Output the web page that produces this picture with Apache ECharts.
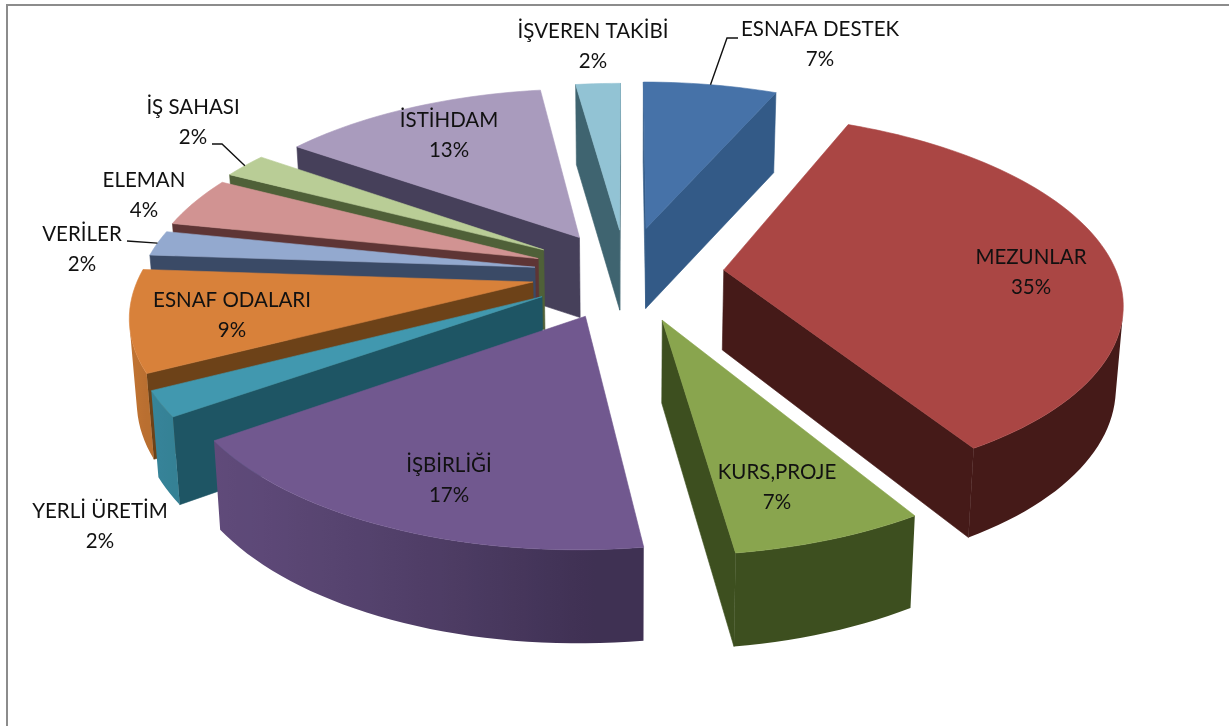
<!DOCTYPE html>
<html>
<head>
<meta charset="utf-8">
<title>Pie</title>
<style>
  html, body { margin: 0; padding: 0; background: #fff; }
  #chart { width: 1229px; height: 726px; }
</style>
<script src="https://cdn.jsdelivr.net/npm/echarts@6/dist/echarts.min.js"></script>
</head>
<body>
<div id="chart"></div>
<script>
// clockwise from twelve o'clock
var categories = ['ESNAFA DESTEK', 'MEZUNLAR', 'KURS,PROJE', 'İŞBİRLİĞİ', 'YERLİ ÜRETİM', 'ESNAF ODALARI', 'VERİLER', 'ELEMAN', 'İŞ SAHASI', 'İSTİHDAM', 'İŞVEREN TAKİBİ'];
// counts that give the printed rounded percentages and fit the slice angles
var counts = [3, 16, 3, 8, 1, 4, 1, 2, 1, 6, 1];

var topColors = ['#4672a8', '#aa4644', '#89a54e', '#71588f', '#4198af', '#d8813a', '#93a9cf', '#d19392', '#b9cd96', '#a99bbd', '#92c3d4'];
var sideColors = ['#335a87', '#451a18', '#3d4f1f', '#3f3153', '#1e5564', '#6d4218', '#3a4a66', '#5e3535', '#4f6038', '#46405a', '#3f6470'];
// how far each slice is pulled out of the pie
var explode = [0.26, 0.25, 0.265, 0.25, 0.245, 0.24, 0.235, 0.24, 0.25, 0.235, 0.245];

// hand placed label centres [x, y of first line]
var labelAt = [[820, 29], [1031, 257], [777, 472], [449, 465], [100, 511], [232, 300], [82, 234], [144, 180], [193, 107], [449, 120], [593, 31]];
var leaderStart = { 0: [[738, 38], [727, 38]], 6: [[127, 241]], 8: [[212, 144], [222, 144]] };

// fake 3d: perspective tilt of the pie plane
var cx = 626, cy = 273, radX = 393, radY = 182, tilt = 0.156, depth = 80;

function project(px, py, low) {
  var w = 1 - tilt * py;
  var x = cx + radX * px / w;
  var y = cy + radY * py / w;
  if (low) {
    x -= (x - cx) * 0.015;
    y += depth + Math.max(0, py) * 11;
  }
  return [x, y];
}

function rgb(hex) {
  return [1, 3, 5].map(function (i) { return parseInt(hex.substr(i, 2), 16); });
}

function mix(a, b, t) {
  var ca = rgb(a), cb = rgb(b);
  return 'rgb(' + ca.map(function (v, i) { return Math.round(v + (cb[i] - v) * t); }).join(',') + ')';
}

function area(p) {
  var s = 0;
  p.forEach(function (q, i) {
    var n = p[(i + 1) % p.length];
    s += q[0] * n[1] - n[0] * q[1];
  });
  return s;
}

var total = counts.reduce(function (a, b) { return a + b; }, 0);
var starts = [];
counts.reduce(function (sum, v, i) { starts[i] = sum; return sum + v; }, 0);

// back slices first so the front ones paint over them
var order = counts.map(function (v, i) { return i; }).sort(function (a, b) {
  var ma = (starts[a] + counts[a] / 2) / total * 2 * Math.PI;
  var mb = (starts[b] + counts[b] / 2) / total * 2 * Math.PI;
  return Math.cos(mb) - Math.cos(ma);
});

function sliceItem(params, api) {
  var i = api.value(2);
  var a0 = api.value(1) / total * 2 * Math.PI;
  var a1 = a0 + api.value(0) / total * 2 * Math.PI;
  var mid = (a0 + a1) / 2;
  var ox = Math.sin(mid) * explode[i], oy = -Math.cos(mid) * explode[i];
  var steps = Math.max(4, Math.round((a1 - a0) / 0.03));
  var arc = [];
  for (var s = 0; s <= steps; s++) {
    var a = a0 + (a1 - a0) * s / steps;
    arc.push([ox + Math.sin(a), oy - Math.cos(a), a]);
  }
  var children = [];
  function face(points, fill) {
    children.push({
      type: 'polygon',
      shape: { points: points },
      style: { fill: fill, stroke: fill, lineWidth: 0.6 }
    });
  }
  function wall(p, q, fill) {
    var pts = [project(p[0], p[1]), project(q[0], q[1]), project(q[0], q[1], true), project(p[0], p[1], true)];
    if (area(pts) < 0) face(pts, fill);
  }
  var apex = [ox, oy];
  wall(apex, arc[0], sideColors[i]);
  wall(arc[steps], apex, sideColors[i]);

  // outer wall as one shape, shaded along x
  var run = [];
  for (var k = 0; k < steps; k++) {
    var p = arc[k], q = arc[k + 1];
    var quad = [project(p[0], p[1]), project(q[0], q[1]), project(q[0], q[1], true), project(p[0], p[1], true)];
    if (area(quad) < 0) {
      if (!run.length) run.push(p);
      run.push(q);
    }
  }
  if (run.length) {
    var upper = run.map(function (p) { return project(p[0], p[1]); });
    var lower = run.map(function (p) { return project(p[0], p[1], true); }).reverse();
    var x0 = upper[0][0], x1 = upper[upper.length - 1][0];
    var shade = function (p) { return mix(sideColors[i], topColors[i], Math.max(0, -Math.sin(p[2])) * 0.8); };
    var fill = shade(run[0]);
    if (Math.abs(x1 - x0) > 1) {
      fill = new echarts.graphic.LinearGradient(x0, 0, x1, 0, run.map(function (p, n) {
        return { offset: n / (run.length - 1), color: shade(p) };
      }), true);
    }
    children.push({
      type: 'polygon',
      shape: { points: upper.concat(lower) },
      style: { fill: fill }
    });
  }

  var top = [project(apex[0], apex[1])].concat(arc.map(function (p) { return project(p[0], p[1]); }));
  face(top, topColors[i]);
  return { type: 'group', children: children };
}

function labelItem(params, api) {
  var i = api.value(2);
  var at = labelAt[i];
  var children = [];
  [categories[i], Math.round(api.value(0) / total * 100) + '%'].forEach(function (line, n) {
    children.push({
      type: 'text',
      style: {
        x: at[0], y: at[1] + n * 30.5, text: line, align: 'center', verticalAlign: 'middle',
        fill: '#111', font: '20.5px Lato, "Noto Sans"'
      }
    });
  });
  if (leaderStart[i]) {
    var mid = (api.value(1) + api.value(0) / 2) / total * 2 * Math.PI;
    var e = explode[i];
    var end = project(Math.sin(mid) * (1 + e), -Math.cos(mid) * (1 + e));
    children.push({
      type: 'polyline',
      shape: { points: leaderStart[i].concat([end]) },
      style: { stroke: '#111', lineWidth: 1.4, fill: null }
    });
  }
  return { type: 'group', children: children };
}

var rows = order.map(function (i) { return [counts[i], starts[i], i]; });

var chart = echarts.init(document.getElementById('chart'));
chart.setOption({
  animation: false,
  backgroundColor: '#fff',
  graphic: [{
    type: 'polyline',
    silent: true,
    shape: { points: [[7, 726], [7, 5], [1229, 5]] },
    style: { stroke: '#8c8c8c', lineWidth: 2, fill: null }
  }],
  series: [
    { type: 'custom', coordinateSystem: 'none', silent: true, renderItem: sliceItem, data: rows, z: 2 },
    { type: 'custom', coordinateSystem: 'none', silent: true, renderItem: labelItem, data: rows, z: 3 }
  ]
});
</script>
</body>
</html>
